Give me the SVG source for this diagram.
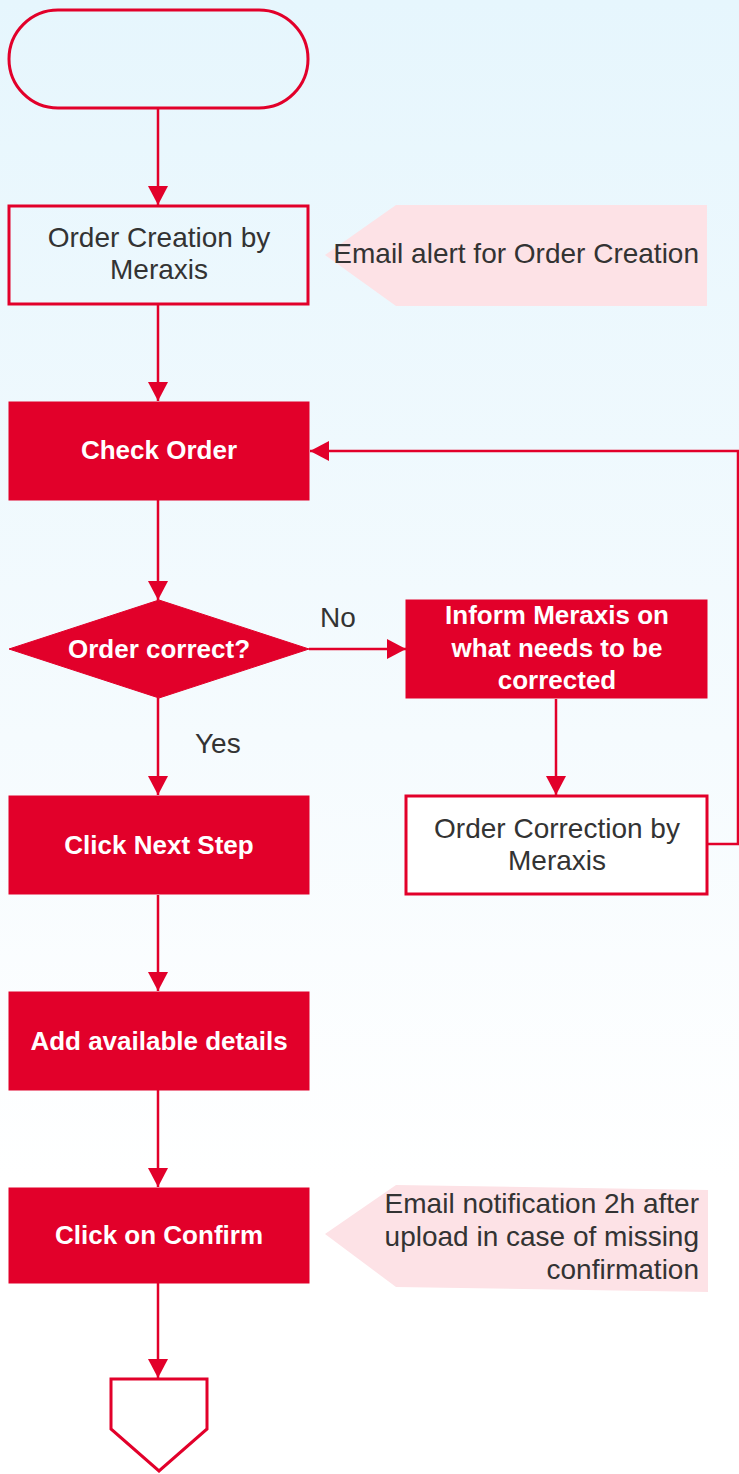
<svg xmlns="http://www.w3.org/2000/svg" width="739" height="1474" viewBox="0 0 739 1474">
<defs>
<linearGradient id="bg" x1="0" y1="0" x2="0" y2="1">
<stop offset="0" stop-color="#e6f6fd"/>
<stop offset="0.5" stop-color="#f5fbfe"/>
<stop offset="0.8" stop-color="#ffffff"/>
<stop offset="1" stop-color="#ffffff"/>
</linearGradient>
<marker id="arr" markerUnits="userSpaceOnUse" markerWidth="20" markerHeight="20" refX="19" refY="10" orient="auto">
<path d="M0,0 L19,10 L0,20 Z" fill="#e2002a"/>
</marker>
<style>
.ln{stroke:#e2002a;stroke-width:2.5;fill:none;marker-end:url(#arr)}
.ln2{stroke:#e2002a;stroke-width:2.5;fill:none}
.outl{fill:none;stroke:#e2002a;stroke-width:3}
.wbox{fill:#ffffff;stroke:#e2002a;stroke-width:3}
.solid{fill:#e2002a;stroke:#e2002a;stroke-width:1}
.call{fill:#fde2e6}
.dt{font-family:"Liberation Sans",Arial,sans-serif;font-size:28px;fill:#333333}
.wt{font-family:"Liberation Sans",Arial,sans-serif;font-size:26px;font-weight:bold;fill:#ffffff}
.c{text-anchor:middle}
.r{text-anchor:end}
</style>
</defs>
<rect x="0" y="0" width="739" height="1474" fill="url(#bg)"/>

<g id="connectors">
<line class="ln" x1="158" y1="108" x2="158" y2="205"/>
<line class="ln" x1="158" y1="304" x2="158" y2="401"/>
<line class="ln" x1="158" y1="500" x2="158" y2="600"/>
<line class="ln" x1="309" y1="649" x2="406" y2="649"/>
<line class="ln" x1="556" y1="699" x2="556" y2="795"/>
<polyline class="ln" points="707,844 738,844 738,451 310,451"/>
<line class="ln" x1="158" y1="698" x2="158" y2="795"/>
<line class="ln" x1="158" y1="895" x2="158" y2="991"/>
<line class="ln" x1="158" y1="1090" x2="158" y2="1187"/>
<line class="ln" x1="158" y1="1283" x2="158" y2="1378"/>
<text class="dt" x="320" y="627">No</text>
<text class="dt" x="195" y="753">Yes</text>
</g>

<g id="start">
<rect class="outl" x="9" y="10" width="299" height="98" rx="49" ry="49"/>
</g>

<g id="order-creation">
<rect class="outl" x="9" y="206" width="299" height="98"/>
<text class="dt c" x="159" y="247">Order Creation by</text>
<text class="dt c" x="159" y="279">Meraxis</text>
</g>

<g id="email-alert">
<polygon class="call" points="325,255 396,205 707,205 707,306 396,306"/>
<text class="dt r" x="699" y="263">Email alert for Order Creation</text>
</g>

<g id="check-order">
<rect class="solid" x="9" y="402" width="300" height="98"/>
<text class="wt c" x="159" y="459">Check Order</text>
</g>

<g id="order-correct">
<polygon class="solid" points="159,600 309,649 159,698 9,649"/>
<text class="wt c" x="159" y="658">Order correct?</text>
</g>

<g id="inform-meraxis">
<rect class="solid" x="406" y="600" width="301" height="98"/>
<text class="wt c" x="557" y="624">Inform Meraxis on</text>
<text class="wt c" x="557" y="657">what needs to be</text>
<text class="wt c" x="557" y="689">corrected</text>
</g>

<g id="order-correction">
<rect class="wbox" x="406" y="796" width="301" height="98"/>
<text class="dt c" x="557" y="838">Order Correction by</text>
<text class="dt c" x="557" y="870">Meraxis</text>
</g>

<g id="click-next-step">
<rect class="solid" x="9" y="796" width="300" height="98"/>
<text class="wt c" x="159" y="854">Click Next Step</text>
</g>

<g id="add-details">
<rect class="solid" x="9" y="992" width="300" height="98"/>
<text class="wt c" x="159" y="1050">Add available details</text>
</g>

<g id="click-confirm">
<rect class="solid" x="9" y="1188" width="300" height="95"/>
<text class="wt c" x="159" y="1244">Click on Confirm</text>
</g>

<g id="email-notification">
<polygon class="call" points="325,1234 396,1185 708,1190 708,1292 396,1287"/>
<text class="dt r" x="699" y="1213">Email notification 2h after</text>
<text class="dt r" x="699" y="1246">upload in case of missing</text>
<text class="dt r" x="699" y="1279">confirmation</text>
</g>

<g id="offpage">
<polygon class="wbox" points="111,1379 207,1379 207,1429 159,1471 111,1429"/>
</g>
</svg>
